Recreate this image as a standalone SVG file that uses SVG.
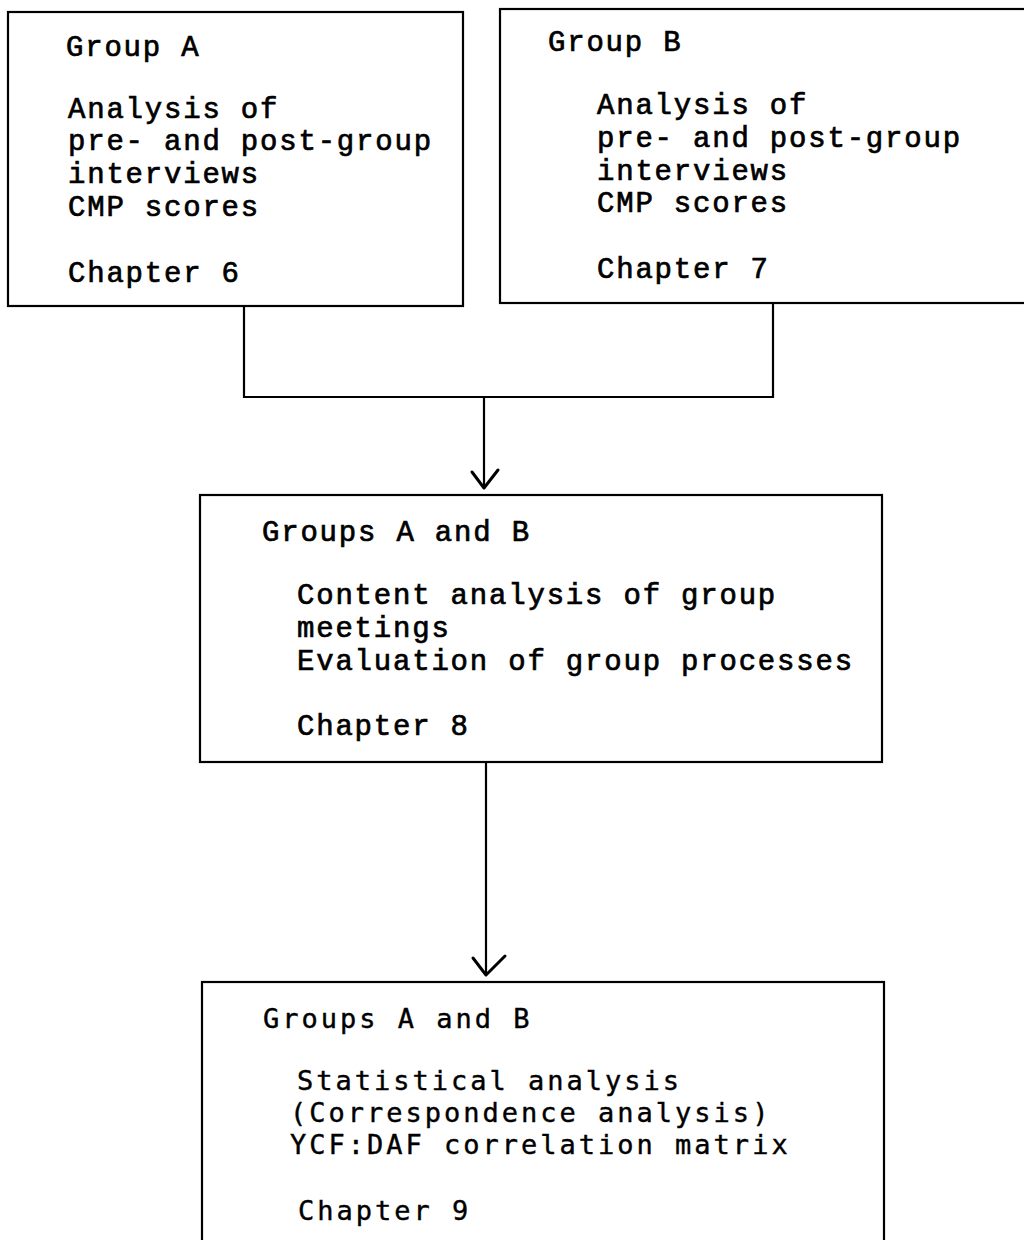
<svg xmlns="http://www.w3.org/2000/svg" width="1024" height="1240" viewBox="0 0 1024 1240">
<style>
.box{fill:#fff;stroke:#000;stroke-width:2.2}
.t{font-family:"Liberation Mono","Courier New",monospace;font-size:29px;letter-spacing:1.8px;fill:#000;stroke:#000;stroke-width:0.7}
.s{font-family:"DejaVu Sans Mono","Liberation Mono",monospace;font-size:27px;letter-spacing:3px;fill:#000;stroke:#000;stroke-width:0.4}
.c{fill:none;stroke:#000;stroke-width:2.2;stroke-linejoin:miter}
.h{fill:none;stroke:#000;stroke-width:3;stroke-linecap:round;stroke-linejoin:round}
</style>
<rect width="1024" height="1240" fill="#fff"/>
<g id="connectors">
<path class="c" d="M244,306 V397 H773 V303"/>
<path class="c" d="M484,397 V487"/>
<path class="h" d="M472,472 L484,488 L498,470"/>
<path class="c" d="M486,762 V974"/>
<path class="h" d="M473,958 L486,975 L505,956"/>
</g>
<g id="groupA">
<rect class="box" x="8" y="12" width="455" height="294"/>
<text class="t" x="66" y="56">Group A</text>
<text class="t" x="68" y="118">Analysis of</text>
<text class="t" x="68" y="150">pre- and post-group</text>
<text class="t" x="68" y="183">interviews</text>
<text class="t" x="68" y="216">CMP scores</text>
<text class="t" x="68" y="282">Chapter 6</text>
</g>
<g id="groupB">
<rect class="box" x="500" y="9" width="540" height="294"/>
<text class="t" x="548" y="51">Group B</text>
<text class="t" x="597" y="114">Analysis of</text>
<text class="t" x="597" y="147">pre- and post-group</text>
<text class="t" x="597" y="180">interviews</text>
<text class="t" x="597" y="212">CMP scores</text>
<text class="t" x="597" y="278">Chapter 7</text>
</g>
<g id="groupsAB8">
<rect class="box" x="200" y="495" width="682" height="267"/>
<text class="t" x="262" y="541">Groups A and B</text>
<text class="t" x="297" y="604">Content analysis of group</text>
<text class="t" x="297" y="637">meetings</text>
<text class="t" x="297" y="670">Evaluation of group processes</text>
<text class="t" x="297" y="735">Chapter 8</text>
</g>
<g id="groupsAB9">
<rect class="box" x="202" y="982" width="682" height="280"/>
<text class="s" x="263" y="1028">Groups A and B</text>
<text class="s" x="297" y="1090">Statistical analysis</text>
<text class="s" x="290" y="1122">(Correspondence analysis)</text>
<text class="s" x="290" y="1154">YCF:DAF correlation matrix</text>
<text class="s" x="298" y="1220">Chapter 9</text>
</g>
</svg>
